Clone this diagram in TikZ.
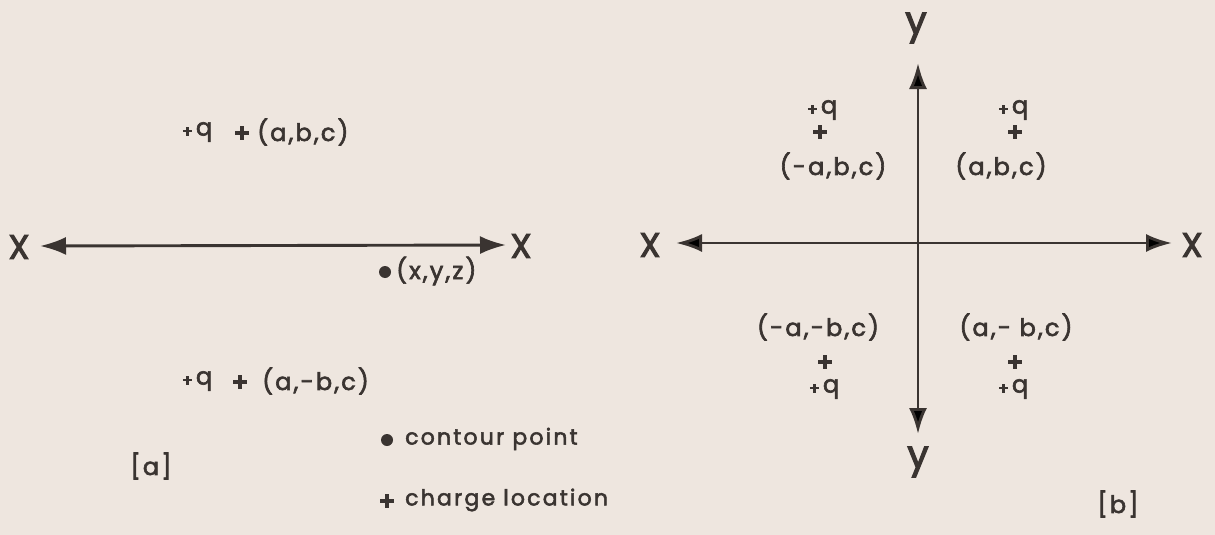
\documentclass[tikz,border=0pt]{standalone}
\usepackage{fontspec}
\setmainfont{Poppins}[FakeBold=3]
\newfontfamily\lbl[LetterSpace=9,FakeBold=2.6]{Poppins}
\newfontfamily\lgd[LetterSpace=10,FakeBold=2.4]{Poppins}
\usetikzlibrary{arrows.meta}
\definecolor{bg}{HTML}{EEE6DF}
\definecolor{ink}{HTML}{3A3431}
\newcommand{\smp}{\raisebox{-1.2pt}{\tikz\draw[ink,line width=2.3pt] (-4.4pt,0)--(4.4pt,0) (0,-4.4pt)--(0,4.4pt);}\hspace{3pt}}
\tikzset{
  txt/.style={inner sep=0pt, text=ink, font=\lbl\fontsize{24}{24}\selectfont},
  axlbl/.style={inner sep=0pt, text=ink, font=\fontsize{34}{34}\selectfont},
  ylbl/.style={inner sep=0pt, text=ink, font=\fontsize{38}{38}\selectfont},
  lgdtxt/.style={inner sep=0pt, text=ink, anchor=west, font=\lgd\fontsize{22}{22}\selectfont},
  chg/.style={inner sep=0pt, minimum size=14pt, path picture={\draw[ink, line width=4.2pt]
    (path picture bounding box.north) -- (path picture bounding box.south)
    (path picture bounding box.west) -- (path picture bounding box.east);}},
  cpt/.style={circle, fill=ink, inner sep=0pt, minimum size=12pt},
  axis/.style={draw=ink, line width=2.9pt, {Latex[length=26pt,width=18pt]}-{Latex[length=26pt,width=18pt]}}
}
\begin{document}
\begin{tikzpicture}[x=1pt,y=-1pt]
\fill[bg] (0,0) rectangle (1215,535);
\useasboundingbox (0,0) rectangle (1215,535);
% ---------- panel a ----------
\node[axlbl] (xaL) at (19,247) {X};
\node[axlbl] (xaR) at (521,246) {X};
\coordinate (aL) at (40,246);
\coordinate (aR) at (506,245);
\draw[axis] (aL) -- (aR);
\node[txt] (qa1) at (197,132) {\smp q};
\node[chg] (ca1) at (242,133) {};
\node[txt, anchor=west] (pa1) at (257,132) {(a,b,c)};
\node[txt] (qa2) at (197,381) {\smp q};
\node[chg] (ca2) at (240,382) {};
\node[txt, anchor=west] (pa2) at (262,381) {(a,-b,c)};
\node[cpt] (dpt) at (385,272) {};
\node[txt, anchor=west] (xyz) at (396,271) {(x,y,z)};
\node[txt] (la) at (151,466) {[a]};
% legend
\node[cpt] (ldot) at (387,440) {};
\node[lgdtxt] (ltxt1) at (405,439) {contour point};
\node[chg] (lchg) at (387,501) {};
\node[lgdtxt] (ltxt2) at (405,500) {charge location};
% ---------- panel b ----------
\node[axlbl] (xbL) at (650,245) {X};
\node[axlbl] (xbR) at (1192,245) {X};
\node[ylbl] (ybT) at (916,28) {y};
\node[ylbl] (ybB) at (918,462) {y};
\coordinate (bL) at (676,243);
\coordinate (bR) at (1172,243);
\coordinate (bT) at (918,63);
\coordinate (bB) at (918,434);
\draw[axis] (bL) -- (bR);
\draw[axis] (bB) -- (bT);
\node[txt] (qb1) at (822,110) {\smp q};
\node[chg] (cb1) at (820,132) {};
\node[txt] (pb1) at (833,166) {(-a,b,c)};
\node[txt] (qb2) at (1013,110) {\smp q};
\node[chg] (cb2) at (1015,132) {};
\node[txt] (pb2) at (1001,166) {(a,b,c)};
\node[txt] (pb3) at (818,327) {(-a,-b,c)};
\node[chg] (cb3) at (825,362) {};
\node[txt] (qb3) at (824,389) {\smp q};
\node[txt] (pb4) at (1016,327) {(a,- b,c)};
\node[chg] (cb4) at (1015,362) {};
\node[txt] (qb4) at (1013,389) {\smp q};
\node[txt] (lb) at (1118,504) {[b]};
\end{tikzpicture}
\end{document}
